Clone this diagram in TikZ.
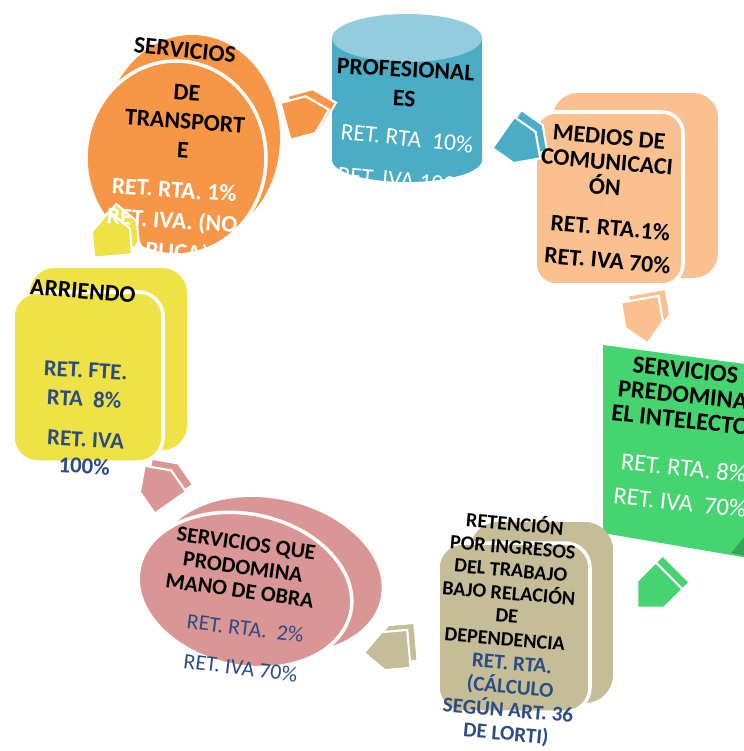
\documentclass[tikz,border=0pt]{standalone}
\usepackage{fontspec}
\setmainfont{Carlito}
\usetikzlibrary{shapes.arrows}
\definecolor{naranja}{HTML}{F79646}
\definecolor{azulcil}{HTML}{4BACC6}
\definecolor{azultapa}{HTML}{93CDDD}
\definecolor{melocoton}{HTML}{FAC090}
\definecolor{verde}{HTML}{45D46F}
\definecolor{verdeosc}{HTML}{34A656}
\definecolor{arena}{HTML}{C4BD97}
\definecolor{rosa}{HTML}{D99694}
\definecolor{amarillo}{HTML}{EFE246}
\definecolor{textoazul}{HTML}{2C4D83}
\tikzset{
	lbl/.style={font=\bfseries\fontsize{13.5}{16.5}\selectfont, align=center, inner sep=0pt},
	flecha/.style={single arrow, draw=white, line width=1.2pt, minimum height=0.9cm, inner xsep=0pt, inner ysep=0.36cm, single arrow head extend=0pt}
}
\def\flechita[#1](#2)(#3)#4{\node[flecha, fill=#1, xshift=4pt, yshift=4pt, rotate=#3] at (#2) {}; \node[flecha, fill=#1, rotate=#3] (#4) at (#2) {};}

\begin{document}
\begin{tikzpicture}[x=0.02cm, y=-0.02cm]
			%%%%% START %%%%%
			\useasboundingbox (0, 0) rectangle (744, 751);
			
			% transporte
			\fill[naranja] (192, 138) ellipse[x radius=88, y radius=103];
			\filldraw[naranja, draw=white, line width=2pt] (176, 158) ellipse[x radius=90, y radius=97];
			
			% profesionales
			\fill[azulcil] (332, 38) -- (332, 160) arc[start angle=180, end angle=0, x radius=75, y radius=22] -- (482, 38) -- cycle;
			\fill[azultapa] (407, 38) ellipse[x radius=75, y radius=24];
			
			% medios
			\fill[melocoton, rounded corners=14pt] (553, 93) rectangle (718, 278);
			\filldraw[melocoton, draw=white, line width=2pt, rounded corners=12pt] (535, 112) rectangle (683, 285);
			
			% intelecto
			\fill[verde] (603, 345) -- (760, 366) -- (760, 560) -- (603, 533) -- cycle;
			\fill[verdeosc] (731, 553) -- (746, 535) -- (746, 556) -- cycle;
			
			% relacion de dependencia
			\fill[arena, rounded corners=16pt] (470, 522) rectangle (613, 703);
			\filldraw[arena, draw=white, line width=2pt, rounded corners=14pt] (438, 543) rectangle (590, 712);
			
			% mano de obra
			\fill[rosa, rotate around={-12:(270, 575)}] (270, 575) ellipse[x radius=113, y radius=76];
			\filldraw[rosa, draw=white, line width=2pt, rotate around={-12:(245, 590)}] (245, 590) ellipse[x radius=108, y radius=76];
			
			% arriendo
			\fill[amarillo, rounded corners=14pt] (30, 268) rectangle (187, 450);
			\filldraw[amarillo, draw=white, line width=2pt, rounded corners=14pt] (13, 292) rectangle (163, 462);
			
			% flechas
			\flechita[naranja](298, 118)(15){f1}
			\flechita[azulcil](514, 140)(-35){f2}
			\flechita[melocoton](642, 312)(-80){f3}
			\flechita[verde](660, 585)(-135){f4}
			\flechita[arena](396, 650)(185){f5}
			\flechita[rosa](163, 492)(125){f6}
			\flechita[amarillo](112, 243)(95){f7}
			
			% textos
			\node[lbl, rotate=-6] (t1) at (185, 50) {SERVICIOS};
			\node[lbl, rotate=-4, font=\bfseries\fontsize{13.5}{16.4}\selectfont] (t2) at (185, 121) {DE\\TRANSPORT\\E};
			\node[lbl, rotate=-4, text=white, font=\bfseries\fontsize{13.5}{17.6}\selectfont] (t3) at (172, 222) {RET. RTA. 1\%\\RET. IVA. (NO\\APLICA)};
			
			\node[lbl, rotate=-3] (p1) at (405, 84) {PROFESIONAL\\ES};
			\node[lbl, rotate=-6, text=white, font=\fontsize{13.5}{16.5}\selectfont] (p2) at (407, 138) {RET. RTA~~10\%};
			\node[lbl, rotate=-5, text=white, font=\fontsize{13.5}{16.5}\selectfont] (p3) at (405, 180) {RET. IVA 100\%};
			
			\node[lbl, rotate=-5, font=\bfseries\fontsize{13.5}{14.2}\selectfont] (m1) at (607, 162) {MEDIOS DE\\COMUNICACI\\ÓN};
			\node[lbl, rotate=-5, font=\bfseries\fontsize{13.5}{18.7}\selectfont] (m2) at (609, 244) {RET. RTA.1\%\\RET. IVA 70\%};
			
			\node[lbl, rotate=-6, font=\bfseries\fontsize{14}{14.2}\selectfont] (i1) at (683, 395) {SERVICIOS\\PREDOMINA\\EL INTELECTO};
			\node[lbl, rotate=-6, text=white, font=\fontsize{14}{19.8}\selectfont] (i2) at (682, 485) {RET. RTA. 8\%\\RET. IVA~~70\%};
			
			\node[lbl, rotate=-5, font=\bfseries\fontsize{11.5}{13.1}\selectfont] (d1) at (510, 580) {RETENCIÓN\\POR INGRESOS\\DEL TRABAJO\\BAJO RELACIÓN\\DE\\DEPENDENCIA};
			\node[lbl, rotate=-5, text=textoazul, font=\bfseries\fontsize{12}{13.4}\selectfont] (d2) at (509, 700) {RET. RTA.\\(CÁLCULO\\SEGÚN ART. 36\\DE LORTI)};
			
			\node[lbl, rotate=-8, font=\bfseries\fontsize{12.5}{13.6}\selectfont] (o1) at (243, 567) {SERVICIOS QUE\\PRODOMINA\\MANO DE OBRA};
			\node[lbl, rotate=-7, text=textoazul, font=\fontsize{12.5}{22.7}\selectfont] (o2) at (243, 648) {RET. RTA.~~2\%\\RET. IVA 70\%};
			
			\node[lbl, rotate=-5] (a1) at (83, 291) {ARRIENDO};
			\node[lbl, rotate=-3, text=textoazul, font=\bfseries\fontsize{13}{16.5}\selectfont] (a2) at (85, 385) {RET. FTE.\\RTA~~8\%};
			\node[lbl, rotate=-3, text=textoazul, font=\bfseries\fontsize{13}{15.3}\selectfont] (a3) at (85, 453) {RET. IVA\\100\%};
			%%%%% END %%%%%
\end{tikzpicture}
\end{document}
